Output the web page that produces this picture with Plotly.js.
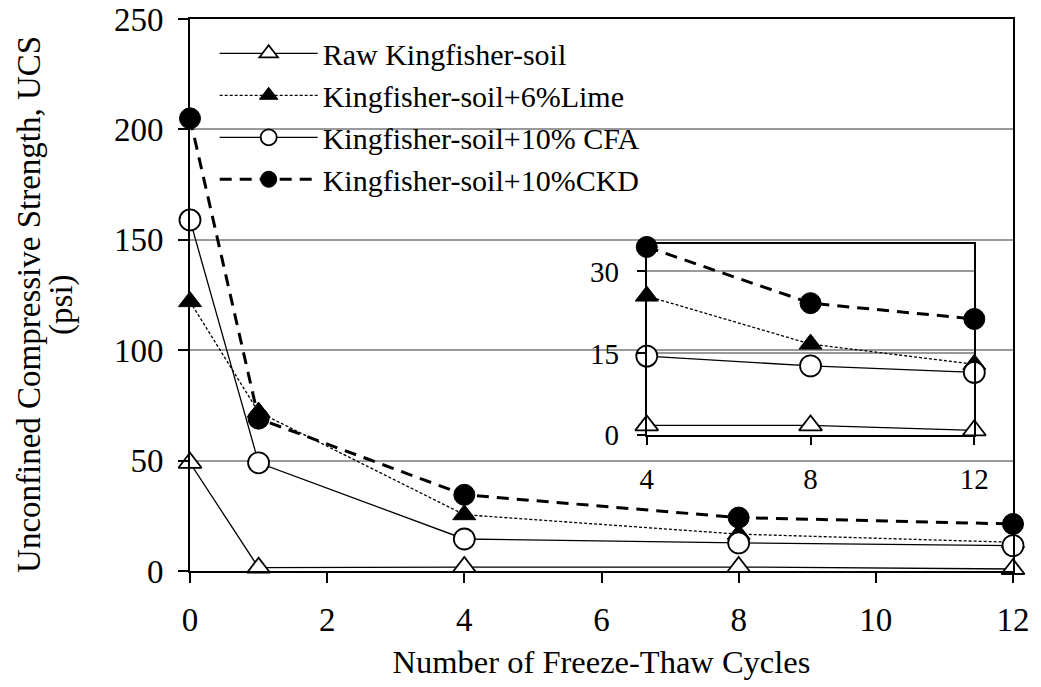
<!DOCTYPE html>
<html>
<head>
<meta charset="utf-8">
<script src="https://cdn.plot.ly/plotly-3.0.1.min.js"></script>
<style>html,body{margin:0;padding:0;background:#fff;}#chart{width:1041px;height:687px;}</style>
</head>
<body>
<div id="chart"></div>
<script>
// Data
const cycles = [0, 1, 4, 8, 12];
const seriesNames = ["Raw Kingfisher-soil", "Kingfisher-soil+6%Lime", "Kingfisher-soil+10% CFA", "Kingfisher-soil+10%CKD"];
const rawSoil = [49, 1.5, 1.8, 1.8, 0.9];
const lime6 = [122, 72, 25.5, 16.7, 13];
const cfa10 = [159, 49, 14.5, 12.7, 11.5];
const ckd10 = [205, 69, 34.5, 24.2, 21.3];
const mainYTicks = [0, 50, 100, 150, 200, 250];
const mainXTicks = [0, 2, 4, 6, 8, 10, 12];
const insetXTicks = [4, 8, 12];
const insetYTicks = [0, 15, 30];
const insetStart = 2; // index of cycle 4
const xTitle = "Number of Freeze-Thaw Cycles";
const yTitleLine1 = "Unconfined Compressive Strength, UCS";
const yTitleLine2 = "(psi)";

const FONT = "\"Liberation Serif\", \"Times New Roman\", serif";
const styles = [
  {line: {color: "black", width: 1.3, dash: "solid"}, marker: {symbol: "triangle-up", size: 20, color: "white", line: {color: "black", width: 1.8}}},
  {line: {color: "black", width: 1.3, dash: "3px,2px"}, marker: {symbol: "triangle-up", size: 20, color: "black", line: {color: "black", width: 1}}},
  {line: {color: "black", width: 1.3, dash: "solid"}, marker: {symbol: "circle", size: 21, color: "white", line: {color: "black", width: 1.8}}},
  {line: {color: "black", width: 3, dash: "12px,8px"}, marker: {symbol: "circle", size: 21, color: "black", line: {color: "black", width: 1}}}
];
const allSeries = [rawSoil, lime6, cfa10, ckd10];

const traces = [];
allSeries.forEach((vals, i) => {
  traces.push({
    x: cycles, y: vals, type: "scatter", mode: "lines+markers",
    name: seriesNames[i], legendgroup: "g" + i,
    line: styles[i].line, marker: styles[i].marker,
    xaxis: "x", yaxis: "y", cliponaxis: false
  });
});
allSeries.forEach((vals, i) => {
  traces.push({
    x: cycles.slice(insetStart), y: vals.slice(insetStart), type: "scatter", mode: "lines+markers",
    name: seriesNames[i], showlegend: false, legendgroup: "g" + i,
    line: styles[i].line, marker: styles[i].marker,
    xaxis: "x2", yaxis: "y2", cliponaxis: false
  });
});

const layout = {
  width: 1041, height: 687,
  paper_bgcolor: "white", plot_bgcolor: "rgba(0,0,0,0)",
  margin: {l: 190, r: 28, t: 19, b: 116},
  font: {family: FONT, size: 30, color: "black"},
  showlegend: true,
  legend: {
    x: 0.03, y: 0.985, xanchor: "left", yanchor: "top",
    bgcolor: "rgba(255,255,255,0)", borderwidth: 0,
    font: {family: FONT, size: 30, color: "black"},
    tracegroupgap: 0, itemwidth: 98
  },
  xaxis: {
    domain: [0, 1], range: [0, 12], tickvals: mainXTicks, ticktext: mainXTicks.map(String),
    showline: true, linecolor: "black", linewidth: 2, mirror: true,
    ticks: "outside", ticklen: 10, tickwidth: 2, tickcolor: "black",
    showgrid: false, zeroline: false, ticklabelstandoff: 8,
    tickfont: {family: FONT, size: 33},
    title: {text: xTitle, font: {family: FONT, size: 32.5}, standoff: 14}
  },
  yaxis: {
    domain: [0, 1], range: [0, 250], tickvals: mainYTicks, ticktext: mainYTicks.map(String),
    showline: true, linecolor: "black", linewidth: 2, mirror: true,
    ticks: "outside", ticklen: 10, tickwidth: 2, tickcolor: "black",
    showgrid: true, gridcolor: "#9a9a9a", gridwidth: 2, zeroline: false, ticklabelstandoff: 8,
    tickfont: {family: FONT, size: 33}
  },
  xaxis2: {
    domain: [0.555, 0.953], range: [4, 12], anchor: "y2", tickvals: insetXTicks, ticktext: insetXTicks.map(String),
    showline: true, linecolor: "black", linewidth: 2, mirror: true,
    ticks: "outside", ticklen: 8, tickwidth: 2, tickcolor: "black",
    showgrid: false, zeroline: false, ticklabelstandoff: 9,
    tickfont: {family: FONT, size: 29}
  },
  yaxis2: {
    domain: [0.246, 0.592], range: [0, 35], anchor: "x2", tickvals: insetYTicks, ticktext: insetYTicks.map(String),
    showline: true, linecolor: "black", linewidth: 2, mirror: true,
    ticks: "outside", ticklen: 8, tickwidth: 2, tickcolor: "black",
    showgrid: true, gridcolor: "#9a9a9a", gridwidth: 2, zeroline: false, ticklabelstandoff: 12,
    tickfont: {family: FONT, size: 29}
  },
  annotations: [
    {text: yTitleLine1, xref: "paper", yref: "paper", x: 0, y: 0.482, xshift: -161, xanchor: "center", yanchor: "middle",
     textangle: -90, showarrow: false, font: {family: FONT, size: 33, color: "black"}},
    {text: yTitleLine2, xref: "paper", yref: "paper", x: 0, y: 0.482, xshift: -128, xanchor: "center", yanchor: "middle",
     textangle: -90, showarrow: false, font: {family: FONT, size: 33, color: "black"}}
  ]
};

Plotly.newPlot("chart", traces, layout, {displayModeBar: false, responsive: false});
</script>
</body>
</html>
